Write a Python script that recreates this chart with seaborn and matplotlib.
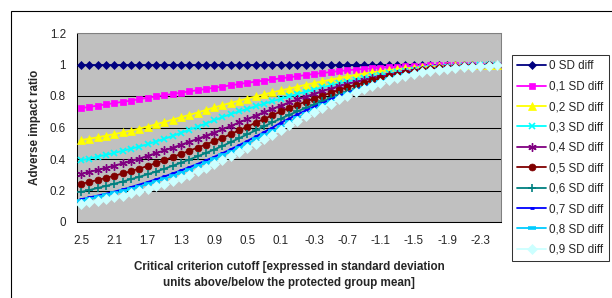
import numpy as np
import pandas as pd
import seaborn as sns
import matplotlib.pyplot as plt
from matplotlib.patches import Rectangle

# critical cutoff (SD units relative to protected group mean), one category per point
cutoffs = [2.5, 2.4, 2.3, 2.2, 2.1, 2.0, 1.9, 1.8, 1.7, 1.6,
           1.5, 1.4, 1.3, 1.2, 1.1, 1.0, 0.9, 0.8, 0.7, 0.6,
           0.5, 0.4, 0.3, 0.2, 0.1, 0.0, -0.1, -0.2, -0.3, -0.4,
           -0.5, -0.6, -0.7, -0.8, -0.9, -1.0, -1.1, -1.2, -1.3, -1.4,
           -1.5, -1.6, -1.7, -1.8, -1.9, -2.0, -2.1, -2.2, -2.3, -2.4,
           -2.5]

series_labels = ['0 SD diff', '0,1 SD diff', '0,2 SD diff', '0,3 SD diff', '0,4 SD diff',
                 '0,5 SD diff', '0,6 SD diff', '0,7 SD diff', '0,8 SD diff', '0,9 SD diff']

sd_00 = [1.0] * len(cutoffs)
sd_01 = [0.723, 0.731, 0.739, 0.747, 0.755, 0.763, 0.771, 0.780, 0.789, 0.797,
         0.805, 0.813, 0.821, 0.829, 0.837, 0.845, 0.852, 0.860, 0.868, 0.876,
         0.884, 0.891, 0.898, 0.905, 0.912, 0.919, 0.926, 0.933, 0.940, 0.946,
         0.952, 0.958, 0.963, 0.968, 0.972, 0.976, 0.980, 0.983, 0.986, 0.989,
         0.991, 0.993, 0.994, 0.995, 0.996, 0.997, 0.998, 0.998, 0.999, 0.999,
         1.000]
sd_02 = [0.520, 0.529, 0.538, 0.548, 0.558, 0.569, 0.580, 0.593, 0.606, 0.620,
         0.635, 0.650, 0.665, 0.680, 0.695, 0.711, 0.727, 0.742, 0.756, 0.770,
         0.784, 0.797, 0.810, 0.823, 0.835, 0.847, 0.859, 0.871, 0.882, 0.893,
         0.904, 0.914, 0.924, 0.933, 0.942, 0.950, 0.957, 0.964, 0.970, 0.975,
         0.980, 0.984, 0.987, 0.990, 0.992, 0.994, 0.995, 0.996, 0.997, 0.998,
         0.999]
sd_03 = [0.392, 0.403, 0.415, 0.427, 0.439, 0.452, 0.465, 0.479, 0.494, 0.511,
         0.528, 0.546, 0.566, 0.585, 0.605, 0.625, 0.646, 0.666, 0.685, 0.702,
         0.718, 0.735, 0.751, 0.767, 0.782, 0.797, 0.812, 0.827, 0.841, 0.855,
         0.868, 0.880, 0.892, 0.903, 0.914, 0.924, 0.934, 0.943, 0.951, 0.958,
         0.964, 0.970, 0.975, 0.980, 0.984, 0.987, 0.990, 0.992, 0.994, 0.995,
         0.996]
sd_04 = [0.305, 0.318, 0.331, 0.344, 0.358, 0.372, 0.387, 0.403, 0.420, 0.437,
         0.454, 0.472, 0.490, 0.509, 0.528, 0.548, 0.568, 0.589, 0.610, 0.632,
         0.654, 0.676, 0.697, 0.718, 0.739, 0.759, 0.778, 0.796, 0.814, 0.831,
         0.847, 0.862, 0.876, 0.889, 0.901, 0.912, 0.923, 0.933, 0.942, 0.950,
         0.958, 0.965, 0.971, 0.976, 0.981, 0.985, 0.988, 0.991, 0.993, 0.995,
         0.996]
sd_05 = [0.242, 0.254, 0.267, 0.280, 0.294, 0.308, 0.323, 0.339, 0.356, 0.374,
         0.393, 0.412, 0.432, 0.452, 0.472, 0.492, 0.513, 0.534, 0.558, 0.582,
         0.606, 0.630, 0.654, 0.678, 0.702, 0.723, 0.744, 0.764, 0.783, 0.802,
         0.820, 0.838, 0.855, 0.870, 0.885, 0.899, 0.912, 0.924, 0.935, 0.945,
         0.954, 0.962, 0.969, 0.975, 0.980, 0.984, 0.988, 0.991, 0.993, 0.995,
         0.996]
sd_06 = [0.191, 0.203, 0.216, 0.229, 0.243, 0.257, 0.272, 0.287, 0.303, 0.320,
         0.338, 0.357, 0.376, 0.396, 0.417, 0.438, 0.460, 0.483, 0.507, 0.532,
         0.557, 0.582, 0.607, 0.632, 0.656, 0.680, 0.702, 0.724, 0.745, 0.766,
         0.786, 0.806, 0.825, 0.843, 0.860, 0.876, 0.891, 0.905, 0.918, 0.930,
         0.941, 0.951, 0.960, 0.968, 0.975, 0.980, 0.985, 0.989, 0.992, 0.994,
         0.996]
sd_07 = [0.145, 0.156, 0.168, 0.180, 0.193, 0.207, 0.222, 0.238, 0.254, 0.271,
         0.289, 0.308, 0.328, 0.348, 0.369, 0.391, 0.414, 0.437, 0.462, 0.488,
         0.515, 0.543, 0.571, 0.600, 0.630, 0.657, 0.683, 0.708, 0.731, 0.754,
         0.778, 0.800, 0.820, 0.839, 0.857, 0.874, 0.890, 0.905, 0.919, 0.932,
         0.945, 0.954, 0.962, 0.969, 0.975, 0.980, 0.984, 0.988, 0.991, 0.993,
         0.995]
sd_08 = [0.135, 0.146, 0.157, 0.169, 0.182, 0.195, 0.209, 0.224, 0.240, 0.257,
         0.275, 0.293, 0.313, 0.333, 0.354, 0.376, 0.399, 0.423, 0.447, 0.472,
         0.498, 0.525, 0.552, 0.579, 0.606, 0.633, 0.661, 0.687, 0.714, 0.740,
         0.765, 0.789, 0.811, 0.833, 0.853, 0.872, 0.889, 0.905, 0.919, 0.931,
         0.942, 0.952, 0.960, 0.968, 0.974, 0.979, 0.983, 0.987, 0.990, 0.992,
         0.994]
sd_09 = [0.117, 0.126, 0.135, 0.145, 0.156, 0.168, 0.181, 0.195, 0.210, 0.226,
         0.244, 0.262, 0.281, 0.301, 0.322, 0.345, 0.368, 0.392, 0.418, 0.444,
         0.471, 0.498, 0.526, 0.555, 0.584, 0.613, 0.642, 0.670, 0.698, 0.726,
         0.752, 0.778, 0.802, 0.825, 0.846, 0.866, 0.884, 0.901, 0.916, 0.929,
         0.941, 0.951, 0.960, 0.967, 0.974, 0.979, 0.983, 0.987, 0.990, 0.992,
         0.994]

series_values = [sd_00, sd_01, sd_02, sd_03, sd_04, sd_05, sd_06, sd_07, sd_08, sd_09]

# old Excel default series colours / markers
colors = ['#000080', '#FF00FF', '#FFFF00', '#00FFFF', '#800080',
          '#800000', '#008080', '#0000FF', '#00CCFF', '#CCFFFF']
markers = ['D', 's', '^', 'x', (6, 2, 0), 'o', '+', '_', '_', 'D']
msizes = [4.2, 5.0, 5.2, 5.0, 6.0, 5.0, 6.0, 3.5, 5.5, 4.6]
mews = [0.5, 0.5, 0.5, 1.2, 1.0, 0.5, 1.2, 2.0, 2.6, 0.5]

sns.set_style('white')
plt.rcParams['font.family'] = ['Liberation Sans', 'DejaVu Sans']
fs = 8.4

W, H = 612, 298
fig = plt.figure(figsize=(W / 100, H / 100), dpi=100)
ax = fig.add_axes([77 / W, 1 - 222 / H, (501 - 77) / W, (222 - 33) / H])
ax.set_facecolor('#C0C0C0')

positions = list(range(len(cutoffs)))
for i, (label, vals) in enumerate(zip(series_labels, series_values)):
    sns.lineplot(x=positions, y=vals, ax=ax, color=colors[i], linewidth=1.3,
                 marker=markers[i], markersize=msizes[i], markeredgewidth=mews[i],
                 markerfacecolor=colors[i], markeredgecolor=colors[i],
                 label=label, zorder=3 + i)

ax.set_xlim(-0.5, len(cutoffs) - 0.5)
ax.set_ylim(0, 1.2)

ax.set_xticks(positions[::4])
ax.set_xticklabels([f'{c:g}' for c in cutoffs[::4]], fontsize=fs)
ax.set_xticks(np.arange(-0.5, len(cutoffs), 1), minor=True)
ax.tick_params(axis='x', which='major', length=0, pad=9)
ax.tick_params(axis='x', which='minor', length=3, width=0.75, direction='out', color='black')

yt = [0, 0.2, 0.4, 0.6, 0.8, 1.0, 1.2]
ax.set_yticks(yt)
ax.set_yticklabels([f'{v:g}' for v in yt], fontsize=fs)
ax.tick_params(axis='y', length=3, width=0.75, direction='out', color='black', pad=5)

ax.yaxis.grid(True, color='black', linewidth=0.75)
ax.xaxis.grid(False)
ax.set_axisbelow(True)
for side in ['left', 'bottom']:
    ax.spines[side].set_color('black')
    ax.spines[side].set_linewidth(0.75)
for side in ['top', 'right']:
    ax.spines[side].set_color('#808080')
    ax.spines[side].set_linewidth(0.75)
ax.set_xlabel('')
ax.set_ylabel('')

handles, labels = ax.get_legend_handles_labels()
ax.get_legend().remove()
leg = fig.legend(handles, labels, loc='upper left',
                 bbox_to_anchor=(512 / W, 1 - 55 / H), bbox_transform=fig.transFigure,
                 borderaxespad=0, borderpad=0.45, labelspacing=0.72,
                 handlelength=2.45, handletextpad=0.3, fancybox=False,
                 frameon=True, edgecolor='black', fontsize=fs)
leg.get_frame().set_linewidth(0.75)

fig.text(35 / W, 1 - 127.5 / H, 'Adverse impact ratio', rotation=90,
         ha='center', va='center', fontsize=fs, fontweight='bold')
fig.text(289 / W, 1 - 275 / H,
         'Critical criterion cutoff [expressed in standard deviation\n'
         'units above/below the protected group mean]',
         ha='center', va='center', ma='center', linespacing=1.38,
         fontsize=fs, fontweight='bold')

fig.patches.append(Rectangle((11 / W, -0.1), 1.0, 1.1 - 11 / H, transform=fig.transFigure,
                             fill=False, edgecolor='black', linewidth=0.8))

fig.savefig('out.png', dpi=100)
